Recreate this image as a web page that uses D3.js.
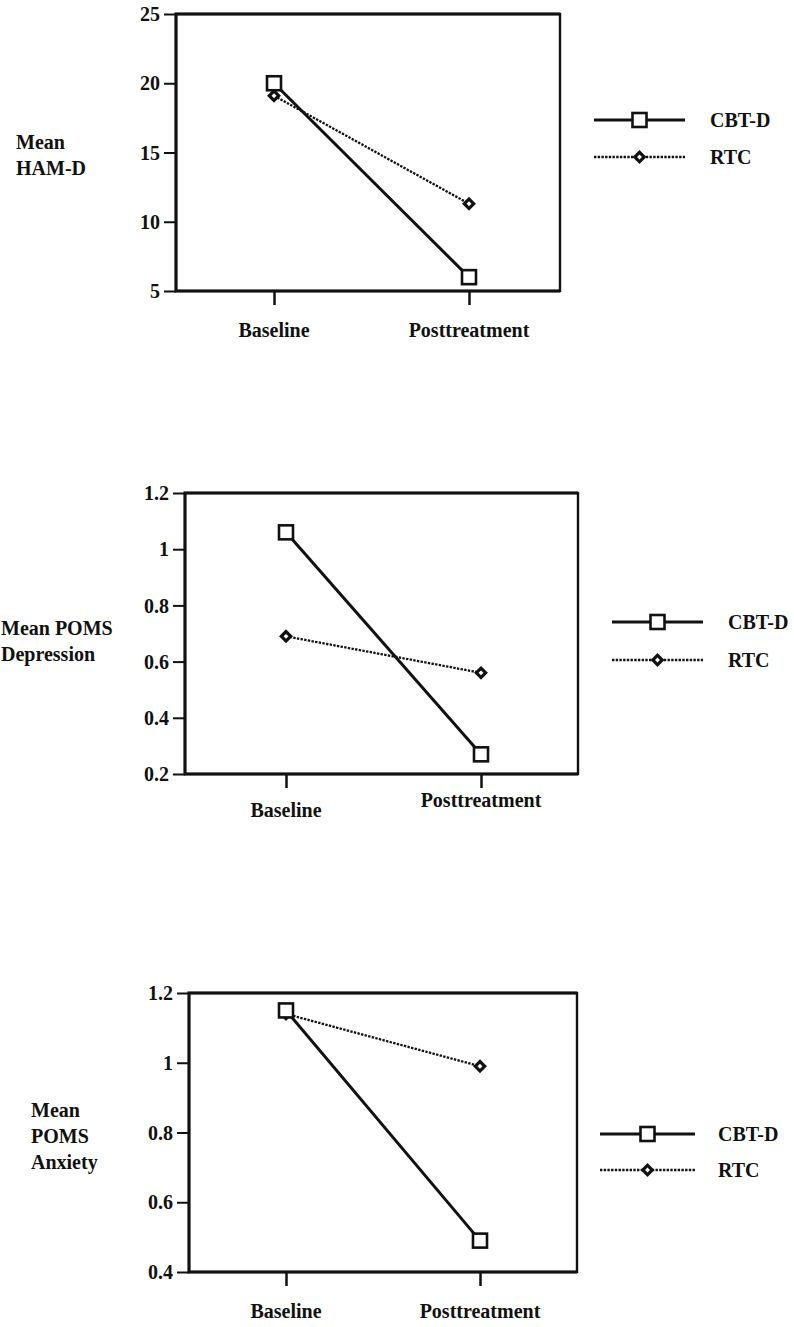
<!DOCTYPE html>
<html>
<head>
<meta charset="utf-8">
<script src="https://cdn.jsdelivr.net/npm/d3@7"></script>
<style>
  body { margin: 0; background: #fff; }
  svg text { font-family: "Liberation Serif", "Times New Roman", serif; font-weight: bold; fill: #111; }
</style>
</head>
<body>
<script>
// data
var periods = ["Baseline", "Posttreatment"]
var seriesNames = ["CBT-D", "RTC"]

var hamTicks = [5, 10, 15, 20, 25]
var hamCBT = [20.0, 6.0]
var hamRTC = [19.1, 11.3]

var depTicks = [0.2, 0.4, 0.6, 0.8, 1, 1.2]
var depCBT = [1.06, 0.27]
var depRTC = [0.69, 0.56]

var anxTicks = [0.4, 0.6, 0.8, 1, 1.2]
var anxCBT = [1.15, 0.49]
var anxRTC = [1.14, 0.99]

// layout of the three stacked panels
var panels = [
  { title: ["Mean", "HAM-D"], titleX: 16, titleY: 149,
    box: { l: 176, r: 560, t: 14, b: 291 }, xr: [274, 469], labelDy: [46, 46],
    ticks: hamTicks, cbt: hamCBT, rtc: hamRTC,
    legend: { x1: 594, x2: 685, tx: 710, y: [120, 157] } },
  { title: ["Mean POMS", "Depression"], titleX: 1, titleY: 635,
    box: { l: 185, r: 578, t: 493, b: 774 }, xr: [286, 481], labelDy: [43, 33],
    ticks: depTicks, cbt: depCBT, rtc: depRTC,
    legend: { x1: 612, x2: 703, tx: 728, y: [622, 660] } },
  { title: ["Mean", "POMS", "Anxiety"], titleX: 31, titleY: 1117,
    box: { l: 189, r: 577, t: 993, b: 1272 }, xr: [286, 480], labelDy: [46, 46],
    ticks: anxTicks, cbt: anxCBT, rtc: anxRTC,
    legend: { x1: 600, x2: 695, tx: 718, y: [1134, 1170] } }
]

var width = 794, height = 1327
var svg = d3.select("body").append("svg")
    .attr("width", width).attr("height", height)

var styles = {
  "CBT-D": { width: 3, dash: null },
  "RTC": { width: 2.3, dash: "2.4,1.3" }
}

function drawSquare(g, x, y) {
  g.append("rect")
    .attr("x", x - 7).attr("y", y - 7)
    .attr("width", 14).attr("height", 14)
    .attr("fill", "#fff").attr("stroke", "#111").attr("stroke-width", 2.6)
}
function drawDiamond(g, x, y) {
  g.append("path")
    .attr("d", d3.symbol().type(d3.symbolSquare).size(44))
    .attr("transform", "translate(" + x + "," + y + ") rotate(45)")
    .attr("fill", "#fff").attr("stroke", "#111").attr("stroke-width", 3.2)
}

panels.forEach(function(p) {
  var g = svg.append("g")
  var b = p.box

  var x = d3.scalePoint().domain(periods).range(p.xr)
  var y = d3.scaleLinear()
      .domain([d3.min(p.ticks), d3.max(p.ticks)])
      .range([b.b, b.t])

  // frame, right side a bit lighter like the scan
  g.append("rect")
    .attr("x", b.l).attr("y", b.t)
    .attr("width", b.r - b.l).attr("height", b.b - b.t)
    .attr("fill", "none").attr("stroke", "#111").attr("stroke-width", 2.4)
  g.append("path")
    .attr("d", "M" + b.r + "," + b.t + "H" + b.l + "V" + b.b + "H" + b.r)
    .attr("fill", "none").attr("stroke", "#111").attr("stroke-width", 3)

  var yAxis = d3.axisLeft(y)
      .tickValues(p.ticks)
      .tickFormat(function(d) { return String(d) })
      .tickSize(12).tickPadding(4)
  var yg = g.append("g")
      .attr("transform", "translate(" + b.l + ",0)")
      .call(yAxis)
  yg.select(".domain").remove()
  yg.selectAll("line").attr("stroke", "#111").attr("stroke-width", 2)
  yg.selectAll("text").style("font-size", "20px").attr("dy", "0.33em")

  var xAxis = d3.axisBottom(x).tickSize(14).tickFormat("")
  var xg = g.append("g")
      .attr("transform", "translate(0," + b.b + ")")
      .call(xAxis)
  xg.select(".domain").remove()
  xg.selectAll("line").attr("stroke", "#111").attr("stroke-width", 2.5)

  periods.forEach(function(name, i) {
    g.append("text")
      .attr("x", x(name)).attr("y", b.b + p.labelDy[i])
      .attr("text-anchor", "middle")
      .style("font-size", "20px")
      .text(name)
  })

  // left title
  p.title.forEach(function(t, i) {
    g.append("text")
      .attr("x", p.titleX).attr("y", p.titleY + i * 26)
      .style("font-size", "20px")
      .text(t)
  })

  var line = d3.line()
      .x(function(d, i) { return x(periods[i]) })
      .y(function(d) { return y(d) })

  // RTC first so CBT-D sits on top
  g.append("path").datum(p.rtc)
    .attr("d", line).attr("fill", "none")
    .attr("stroke", "#111").attr("stroke-width", styles.RTC.width)
    .attr("stroke-dasharray", styles.RTC.dash)
  g.append("path").datum(p.cbt)
    .attr("d", line).attr("fill", "none")
    .attr("stroke", "#111").attr("stroke-width", styles["CBT-D"].width)

  p.rtc.forEach(function(v, i) { drawDiamond(g, x(periods[i]), y(v)) })
  p.cbt.forEach(function(v, i) { drawSquare(g, x(periods[i]), y(v)) })

  // legend
  var L = p.legend
  seriesNames.forEach(function(s, i) {
    var ly = L.y[i]
    g.append("line")
      .attr("x1", L.x1).attr("x2", L.x2).attr("y1", ly).attr("y2", ly)
      .attr("stroke", "#111").attr("stroke-width", styles[s].width)
      .attr("stroke-dasharray", styles[s].dash)
    var mx = (L.x1 + L.x2) / 2
    if (s == "CBT-D") drawSquare(g, mx, ly)
    else drawDiamond(g, mx, ly)
    g.append("text")
      .attr("x", L.tx).attr("y", ly + 7)
      .style("font-size", "20px")
      .text(s)
  })
})
</script>
</body>
</html>
